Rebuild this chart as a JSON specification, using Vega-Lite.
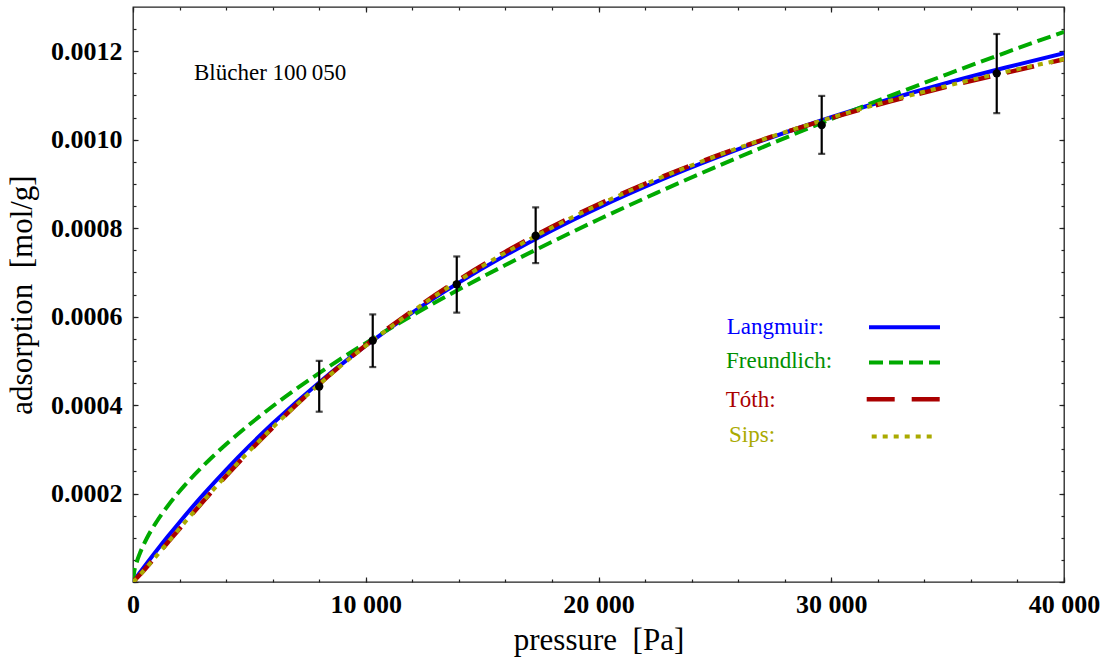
{
  "$schema": "https://vega.github.io/schema/vega-lite/v6.json",
  "width": 931,
  "height": 575,
  "autosize": "none",
  "padding": {"left": 133, "top": 7, "right": 40, "bottom": 79},
  "background": "white",
  "view": {"stroke": "#222", "strokeWidth": 1.3},
  "config": {
    "scale": {"continuousPadding": 0},
    "axis": {"domain": false, "grid": false, "labelFlush": false, "tickColor": "#222", "tickWidth": 1.2, "labelColor": "black", "titleColor": "black", "labelFont": "Liberation Serif", "titleFont": "Liberation Serif"}
  },
  "datasets": {
    "curves": [
      {"s": "Langmuir", "g": "c", "p": 0, "q": 0},
      {"s": "Langmuir", "g": "c", "p": 250, "q": 0.00001796},
      {"s": "Langmuir", "g": "c", "p": 500, "q": 0.0000356},
      {"s": "Langmuir", "g": "c", "p": 1000, "q": 0.00006998},
      {"s": "Langmuir", "g": "c", "p": 1500, "q": 0.0001032},
      {"s": "Langmuir", "g": "c", "p": 2000, "q": 0.0001353},
      {"s": "Langmuir", "g": "c", "p": 3000, "q": 0.0001964},
      {"s": "Langmuir", "g": "c", "p": 4000, "q": 0.0002537},
      {"s": "Langmuir", "g": "c", "p": 5000, "q": 0.0003076},
      {"s": "Langmuir", "g": "c", "p": 6000, "q": 0.0003582},
      {"s": "Langmuir", "g": "c", "p": 8000, "q": 0.0004512},
      {"s": "Langmuir", "g": "c", "p": 10000, "q": 0.0005343},
      {"s": "Langmuir", "g": "c", "p": 12000, "q": 0.0006092},
      {"s": "Langmuir", "g": "c", "p": 14000, "q": 0.0006769},
      {"s": "Langmuir", "g": "c", "p": 16000, "q": 0.0007385},
      {"s": "Langmuir", "g": "c", "p": 18000, "q": 0.0007948},
      {"s": "Langmuir", "g": "c", "p": 20000, "q": 0.0008463},
      {"s": "Langmuir", "g": "c", "p": 22500, "q": 0.000905},
      {"s": "Langmuir", "g": "c", "p": 25000, "q": 0.0009582},
      {"s": "Langmuir", "g": "c", "p": 27500, "q": 0.0010066},
      {"s": "Langmuir", "g": "c", "p": 30000, "q": 0.0010508},
      {"s": "Langmuir", "g": "c", "p": 32500, "q": 0.0010914},
      {"s": "Langmuir", "g": "c", "p": 35000, "q": 0.0011288},
      {"s": "Langmuir", "g": "c", "p": 37500, "q": 0.0011633},
      {"s": "Langmuir", "g": "c", "p": 40000, "q": 0.0011953},
      {"s": "Langmuir", "g": "l", "p": 31622, "q": 0.000576},
      {"s": "Langmuir", "g": "l", "p": 34672, "q": 0.000576},

      {"s": "Freundlich", "g": "c", "p": 0, "q": 0},
      {"s": "Freundlich", "g": "c", "p": 50, "q": 0.0000223},
      {"s": "Freundlich", "g": "c", "p": 150, "q": 0.0000432},
      {"s": "Freundlich", "g": "c", "p": 300, "q": 0.0000655},
      {"s": "Freundlich", "g": "c", "p": 600, "q": 0.0000994},
      {"s": "Freundlich", "g": "c", "p": 1000, "q": 0.0001352},
      {"s": "Freundlich", "g": "c", "p": 1500, "q": 0.0001725},
      {"s": "Freundlich", "g": "c", "p": 2000, "q": 0.0002051},
      {"s": "Freundlich", "g": "c", "p": 3000, "q": 0.0002618},
      {"s": "Freundlich", "g": "c", "p": 4000, "q": 0.0003113},
      {"s": "Freundlich", "g": "c", "p": 5000, "q": 0.000356},
      {"s": "Freundlich", "g": "c", "p": 6000, "q": 0.0003973},
      {"s": "Freundlich", "g": "c", "p": 8000, "q": 0.0004723},
      {"s": "Freundlich", "g": "c", "p": 10000, "q": 0.0005401},
      {"s": "Freundlich", "g": "c", "p": 12000, "q": 0.0006027},
      {"s": "Freundlich", "g": "c", "p": 14000, "q": 0.0006613},
      {"s": "Freundlich", "g": "c", "p": 16000, "q": 0.0007166},
      {"s": "Freundlich", "g": "c", "p": 18000, "q": 0.000769},
      {"s": "Freundlich", "g": "c", "p": 20000, "q": 0.0008196},
      {"s": "Freundlich", "g": "c", "p": 22500, "q": 0.0008798},
      {"s": "Freundlich", "g": "c", "p": 25000, "q": 0.0009375},
      {"s": "Freundlich", "g": "c", "p": 27500, "q": 0.0009928},
      {"s": "Freundlich", "g": "c", "p": 30000, "q": 0.0010466},
      {"s": "Freundlich", "g": "c", "p": 32500, "q": 0.0010983},
      {"s": "Freundlich", "g": "c", "p": 35000, "q": 0.0011483},
      {"s": "Freundlich", "g": "c", "p": 37500, "q": 0.001197},
      {"s": "Freundlich", "g": "c", "p": 40000, "q": 0.001244},
      {"s": "Freundlich", "g": "l", "p": 31622, "q": 0.000496},
      {"s": "Freundlich", "g": "l", "p": 34672, "q": 0.000496},

      {"s": "Tóth", "g": "c", "p": 0, "q": 0},
      {"s": "Tóth", "g": "c", "p": 250, "q": 0.000014},
      {"s": "Tóth", "g": "c", "p": 500, "q": 0.0000285},
      {"s": "Tóth", "g": "c", "p": 1000, "q": 0.000059},
      {"s": "Tóth", "g": "c", "p": 1500, "q": 0.0000898},
      {"s": "Tóth", "g": "c", "p": 2000, "q": 0.0001205},
      {"s": "Tóth", "g": "c", "p": 3000, "q": 0.0001812},
      {"s": "Tóth", "g": "c", "p": 4000, "q": 0.0002398},
      {"s": "Tóth", "g": "c", "p": 5000, "q": 0.0002957},
      {"s": "Tóth", "g": "c", "p": 6000, "q": 0.000349},
      {"s": "Tóth", "g": "c", "p": 8000, "q": 0.0004475},
      {"s": "Tóth", "g": "c", "p": 10000, "q": 0.000535},
      {"s": "Tóth", "g": "c", "p": 12000, "q": 0.0006132},
      {"s": "Tóth", "g": "c", "p": 14000, "q": 0.0006833},
      {"s": "Tóth", "g": "c", "p": 16000, "q": 0.0007463},
      {"s": "Tóth", "g": "c", "p": 18000, "q": 0.000803},
      {"s": "Tóth", "g": "c", "p": 20000, "q": 0.000854},
      {"s": "Tóth", "g": "c", "p": 22500, "q": 0.0009113},
      {"s": "Tóth", "g": "c", "p": 25000, "q": 0.0009622},
      {"s": "Tóth", "g": "c", "p": 27500, "q": 0.0010078},
      {"s": "Tóth", "g": "c", "p": 30000, "q": 0.001049},
      {"s": "Tóth", "g": "c", "p": 32500, "q": 0.0010862},
      {"s": "Tóth", "g": "c", "p": 35000, "q": 0.00112},
      {"s": "Tóth", "g": "c", "p": 37500, "q": 0.0011512},
      {"s": "Tóth", "g": "c", "p": 40000, "q": 0.001182},
      {"s": "Tóth", "g": "l", "p": 31523, "q": 0.000413},
      {"s": "Tóth", "g": "l", "p": 34672, "q": 0.000413},

      {"s": "Sips", "g": "c", "p": 0, "q": 0},
      {"s": "Sips", "g": "c", "p": 250, "q": 0.00001306},
      {"s": "Sips", "g": "c", "p": 500, "q": 0.00002778},
      {"s": "Sips", "g": "c", "p": 1000, "q": 0.0000585},
      {"s": "Sips", "g": "c", "p": 1500, "q": 0.0000897},
      {"s": "Sips", "g": "c", "p": 2000, "q": 0.0001209},
      {"s": "Sips", "g": "c", "p": 3000, "q": 0.0001819},
      {"s": "Sips", "g": "c", "p": 4000, "q": 0.0002405},
      {"s": "Sips", "g": "c", "p": 5000, "q": 0.0002962},
      {"s": "Sips", "g": "c", "p": 6000, "q": 0.0003492},
      {"s": "Sips", "g": "c", "p": 8000, "q": 0.000447},
      {"s": "Sips", "g": "c", "p": 10000, "q": 0.0005339},
      {"s": "Sips", "g": "c", "p": 12000, "q": 0.0006117},
      {"s": "Sips", "g": "c", "p": 14000, "q": 0.0006815},
      {"s": "Sips", "g": "c", "p": 16000, "q": 0.0007444},
      {"s": "Sips", "g": "c", "p": 18000, "q": 0.0008012},
      {"s": "Sips", "g": "c", "p": 20000, "q": 0.0008526},
      {"s": "Sips", "g": "c", "p": 22500, "q": 0.0009104},
      {"s": "Sips", "g": "c", "p": 25000, "q": 0.0009619},
      {"s": "Sips", "g": "c", "p": 27500, "q": 0.0010082},
      {"s": "Sips", "g": "c", "p": 30000, "q": 0.0010499},
      {"s": "Sips", "g": "c", "p": 32500, "q": 0.0010877},
      {"s": "Sips", "g": "c", "p": 35000, "q": 0.001122},
      {"s": "Sips", "g": "c", "p": 37500, "q": 0.0011533},
      {"s": "Sips", "g": "c", "p": 40000, "q": 0.001182},
      {"s": "Sips", "g": "l", "p": 31738, "q": 0.000329},
      {"s": "Sips", "g": "l", "p": 34427, "q": 0.000329}
    ],
    "points": [
      {"p": 8000, "q": 0.000442, "lo": 0.000385, "hi": 0.0005},
      {"p": 10300, "q": 0.000546, "lo": 0.000486, "hi": 0.000605},
      {"p": 13910, "q": 0.000673, "lo": 0.000609, "hi": 0.000736},
      {"p": 17300, "q": 0.000783, "lo": 0.000721, "hi": 0.000847},
      {"p": 29590, "q": 0.001033, "lo": 0.000968, "hi": 0.001099},
      {"p": 37110, "q": 0.00115, "lo": 0.00106, "hi": 0.001239}
    ],
    "texts": [
      {"s": "Langmuir", "p": 25508, "q": 0.0005602, "label": "Langmuir:"},
      {"s": "Freundlich", "p": 25478, "q": 0.0004834, "label": "Freundlich:"},
      {"s": "Tóth", "p": 25465, "q": 0.0003966, "label": "Tóth:"},
      {"s": "Sips", "p": 25607, "q": 0.0003175, "label": "Sips:"},
      {"s": "note", "p": 2621, "q": 0.0011348, "label": "Blücher 100\u2009050"}
    ]
  },
  "resolve": {"axis": {"x": "independent", "y": "independent"}},
  "layer": [
    {
      "data": {"name": "curves"},
      "transform": [{"filter": "datum.s === 'Langmuir'"}],
      "mark": {"type": "line", "color": "#0000FF", "strokeWidth": 4, "interpolate": "monotone", "clip": true},
      "encoding": {
        "x": {"field": "p", "type": "quantitative", "scale": {"domain": [0, 40000], "nice": false, "zero": false, "padding": 0},
          "axis": {"orient": "bottom", "values": [0, 10000, 20000, 30000, 40000], "ticks": false, "labelFlush": false, "labelExpr": "replace(format(datum.value, ','), ',', ' ')", "labelFontSize": 26, "labelFontWeight": "bold", "labelPadding": 9, "title": "pressure \u00a0[Pa]", "titleFontSize": 31, "titleFontWeight": "normal", "titlePadding": 8}},
        "y": {"field": "q", "type": "quantitative", "scale": {"domain": [0, 0.0013], "nice": false, "zero": false, "padding": 0},
          "axis": {"orient": "left", "values": [0.0002, 0.0004, 0.0006, 0.0008, 0.001, 0.0012], "format": ".4f", "ticks": false, "labelFlush": false, "labelFontSize": 26, "labelFontWeight": "bold", "labelPadding": 11, "title": "adsorption \u00a0[mol/g]", "titleFontSize": 31, "titleFontWeight": "normal", "titlePadding": 12}},
        "detail": {"field": "g"}
      }
    },
    {
      "data": {"name": "curves"},
      "transform": [{"filter": "datum.s === 'Freundlich'"}],
      "mark": {"type": "line", "color": "#00AA00", "strokeWidth": 4, "strokeDash": [14, 6], "interpolate": "monotone", "clip": true},
      "encoding": {
        "x": {"field": "p", "type": "quantitative", "scale": {"domain": [0, 40000], "nice": false, "zero": false, "padding": 0}, "axis": {"orient": "bottom", "values": [0, 10000, 20000, 30000, 40000], "tickSize": -5, "labels": false, "title": null}},
        "y": {"field": "q", "type": "quantitative", "scale": {"domain": [0, 0.0013], "nice": false, "zero": false, "padding": 0}, "axis": {"orient": "left", "values": [0, 0.0002, 0.0004, 0.0006, 0.0008, 0.001, 0.0012], "tickSize": -5, "labels": false, "title": null}},
        "detail": {"field": "g"}
      }
    },
    {
      "data": {"name": "curves"},
      "transform": [{"filter": "datum.s === 'Tóth'"}],
      "mark": {"type": "line", "color": "#AA0000", "strokeWidth": 4.5, "strokeDash": [28, 17], "interpolate": "monotone", "clip": true},
      "encoding": {
        "x": {"field": "p", "type": "quantitative", "scale": {"domain": [0, 40000], "nice": false, "zero": false, "padding": 0}, "axis": {"orient": "bottom", "values": [0, 2000, 4000, 6000, 8000, 10000, 12000, 14000, 16000, 18000, 20000, 22000, 24000, 26000, 28000, 30000, 32000, 34000, 36000, 38000, 40000], "tickSize": -3, "labels": false, "title": null}},
        "y": {"field": "q", "type": "quantitative", "scale": {"domain": [0, 0.0013], "nice": false, "zero": false, "padding": 0}, "axis": {"orient": "left", "values": [0, 0.00005, 0.0001, 0.00015, 0.0002, 0.00025, 0.0003, 0.00035, 0.0004, 0.00045, 0.0005, 0.00055, 0.0006, 0.00065, 0.0007, 0.00075, 0.0008, 0.00085, 0.0009, 0.00095, 0.001, 0.00105, 0.0011, 0.00115, 0.0012, 0.00125], "tickSize": -3, "labels": false, "title": null}},
        "detail": {"field": "g"}
      }
    },
    {
      "data": {"name": "curves"},
      "transform": [{"filter": "datum.s === 'Sips'"}],
      "mark": {"type": "line", "color": "#AAAA00", "strokeWidth": 4, "strokeDash": [5, 6], "interpolate": "monotone", "clip": true},
      "encoding": {
        "x": {"field": "p", "type": "quantitative", "scale": {"domain": [0, 40000], "nice": false, "zero": false, "padding": 0}, "axis": {"orient": "top", "values": [0, 10000, 20000, 30000, 40000], "tickSize": -5, "labels": false, "title": null}},
        "y": {"field": "q", "type": "quantitative", "scale": {"domain": [0, 0.0013], "nice": false, "zero": false, "padding": 0}, "axis": {"orient": "right", "values": [0, 0.0002, 0.0004, 0.0006, 0.0008, 0.001, 0.0012], "tickSize": -5, "labels": false, "title": null}},
        "detail": {"field": "g"}
      }
    },
    {
      "data": {"name": "points"},
      "mark": {"type": "rule", "color": "black", "strokeWidth": 2.2},
      "encoding": {
        "x": {"field": "p", "type": "quantitative", "scale": {"domain": [0, 40000], "nice": false, "zero": false, "padding": 0}, "axis": {"orient": "top", "values": [0, 2000, 4000, 6000, 8000, 10000, 12000, 14000, 16000, 18000, 20000, 22000, 24000, 26000, 28000, 30000, 32000, 34000, 36000, 38000, 40000], "tickSize": -3, "labels": false, "title": null}},
        "y": {"field": "lo", "type": "quantitative", "scale": {"domain": [0, 0.0013], "nice": false, "zero": false, "padding": 0}, "axis": {"orient": "right", "values": [0, 0.00005, 0.0001, 0.00015, 0.0002, 0.00025, 0.0003, 0.00035, 0.0004, 0.00045, 0.0005, 0.00055, 0.0006, 0.00065, 0.0007, 0.00075, 0.0008, 0.00085, 0.0009, 0.00095, 0.001, 0.00105, 0.0011, 0.00115, 0.0012, 0.00125], "tickSize": -3, "labels": false, "title": null}},
        "y2": {"field": "hi"}
      }
    },
    {
      "data": {"name": "points"},
      "mark": {"type": "tick", "orient": "horizontal", "color": "black", "size": 7, "thickness": 2.2},
      "encoding": {
        "x": {"field": "p", "type": "quantitative", "axis": null},
        "y": {"field": "lo", "type": "quantitative", "axis": null}
      }
    },
    {
      "data": {"name": "points"},
      "mark": {"type": "tick", "orient": "horizontal", "color": "black", "size": 7, "thickness": 2.2},
      "encoding": {
        "x": {"field": "p", "type": "quantitative", "axis": null},
        "y": {"field": "hi", "type": "quantitative", "axis": null}
      }
    },
    {
      "data": {"name": "points"},
      "mark": {"type": "point", "filled": true, "color": "black", "opacity": 1, "size": 70},
      "encoding": {
        "x": {"field": "p", "type": "quantitative", "axis": null},
        "y": {"field": "q", "type": "quantitative", "axis": null}
      }
    },
    {
      "data": {"name": "texts"},
      "mark": {"type": "text", "align": "left", "baseline": "alphabetic", "font": "Liberation Serif", "fontSize": 23},
      "encoding": {
        "x": {"field": "p", "type": "quantitative", "axis": null},
        "y": {"field": "q", "type": "quantitative", "axis": null},
        "text": {"field": "label"},
        "color": {"field": "s", "type": "nominal", "legend": null, "scale": {"domain": ["Langmuir", "Freundlich", "Tóth", "Sips", "note"], "range": ["#0000FF", "#009000", "#AA0000", "#AAAA00", "#000000"]}}
      }
    }
  ]
}
